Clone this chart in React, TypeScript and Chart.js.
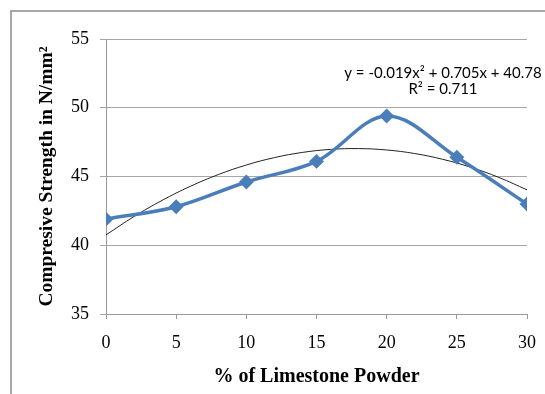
import { useEffect, useRef } from 'react';
import { Chart, registerables } from 'chart.js';

Chart.register(...registerables);

const limestonePercent = [0, 5, 10, 15, 20, 25, 30];
const strengthValues = [41.9, 42.8, 44.6, 46.1, 49.4, 46.4, 43.0];
const trendX = [0, 2, 4, 6, 8, 10, 12, 14, 16, 18, 20, 22, 24, 26, 28, 30];
const equationLabel = 'y = -0.019x² + 0.705x + 40.78';
const rSquaredLabel = 'R² = 0.711';
const xTitle = '% of Limestone Powder';
const yTitle = 'Compresive Strength in N/mm²';

// least-squares quadratic fit (the Excel polynomial trendline) of the data
function quadFit(xs: number[], ys: number[]) {
  const n = xs.length;
  const s = [0, 0, 0, 0, 0];
  const t = [0, 0, 0];
  for (let i = 0; i < n; i++) {
    const x = xs[i];
    const y = ys[i];
    for (let k = 0; k < 5; k++) s[k] += Math.pow(x, k);
    for (let k = 0; k < 3; k++) t[k] += y * Math.pow(x, k);
  }
  const M = [
    [s[0], s[1], s[2], t[0]],
    [s[1], s[2], s[3], t[1]],
    [s[2], s[3], s[4], t[2]],
  ];
  for (let i = 0; i < 3; i++) {
    for (let j = i + 1; j < 3; j++) {
      const f = M[j][i] / M[i][i];
      for (let k = i; k < 4; k++) M[j][k] -= f * M[i][k];
    }
  }
  const c = [0, 0, 0];
  for (let i = 2; i >= 0; i--) {
    let v = M[i][3];
    for (let k = i + 1; k < 3; k++) v -= M[i][k] * c[k];
    c[i] = v / M[i][i];
  }
  return c; // c0 + c1 x + c2 x^2
}

const framePlugin = {
  id: 'frame',
  beforeDraw(chart: any) {
    const ctx = chart.ctx;
    ctx.save();
    ctx.strokeStyle = '#a8a8a8';
    ctx.lineWidth = 2;
    ctx.strokeRect(11, 11, 600, 500);
    ctx.restore();
  },
};

const equationPlugin = {
  id: 'equation',
  afterDraw(chart: any) {
    const ctx = chart.ctx;
    ctx.save();
    ctx.fillStyle = '#000';
    ctx.font = '15px Lato';
    ctx.textAlign = 'center';
    ctx.textBaseline = 'middle';
    ctx.fillText(equationLabel, 443, 73);
    ctx.fillText(rSquaredLabel, 443, 89);
    ctx.restore();
  },
};

export default function App() {
  const ref = useRef<HTMLCanvasElement>(null);
  useEffect(() => {
    document.body.style.margin = '0';
    const c = quadFit(limestonePercent, strengthValues);
    const trendData = trendX.map((x) => ({ x, y: c[0] + c[1] * x + c[2] * x * x }));
    const chart = new Chart(ref.current!, {
      type: 'line',
      data: {
        datasets: [
          {
            data: limestonePercent.map((x, i) => ({ x, y: strengthValues[i] })),
            borderColor: '#4a7ebb',
            backgroundColor: '#4a7ebb',
            borderWidth: 3.5,
            pointStyle: 'rectRot',
            pointRadius: 5,
            tension: 0.35,
            order: 0,
          },
          {
            data: trendData,
            borderColor: '#222',
            borderWidth: 1,
            pointRadius: 0,
            tension: 0.4,
            order: 1,
          },
        ],
      },
      options: {
        responsive: false,
        animation: false,
        layout: { padding: { left: 0, right: 18, top: 39, bottom: 0 } },
        plugins: { legend: { display: false }, tooltip: { enabled: false } },
        scales: {
          x: {
            type: 'linear',
            min: 0,
            max: 30,
            ticks: {
              stepSize: 5,
              color: '#000',
              font: { family: 'Liberation Serif', size: 18 },
              padding: 13,
              maxRotation: 0,
            },
            grid: { drawOnChartArea: false, drawTicks: true, tickLength: 5, color: '#999' },
            border: { display: true, color: '#999' },
            title: {
              display: true,
              text: xTitle,
              color: '#000',
              font: { family: 'Liberation Serif', size: 20, weight: 'bold' },
              padding: { top: 0, bottom: 5 },
            },
            afterFit(scale: any) {
              scale.height = 80;
              scale.paddingLeft = 0;
              scale.paddingRight = 0;
            },
          },
          y: {
            min: 35,
            max: 55,
            ticks: {
              stepSize: 5,
              color: '#000',
              font: { family: 'Liberation Serif', size: 18 },
              padding: 11,
            },
            grid: { color: '#a6a6a6', tickLength: 6 },
            border: { display: true, color: '#999' },
            title: {
              display: true,
              text: yTitle,
              color: '#000',
              font: { family: 'Liberation Serif', size: 19.5, weight: 'bold' },
              padding: { top: 35, bottom: 0 },
            },
            afterFit(scale: any) {
              scale.width = 106;
              scale.paddingTop = 0;
              scale.paddingBottom = 0;
            },
          },
        },
      },
      plugins: [framePlugin, equationPlugin],
    });
    return () => chart.destroy();
  }, []);
  return (
    <div style={{ width: 545, height: 394, background: '#fff' }}>
      <canvas ref={ref} width={545} height={394} />
    </div>
  );
}
